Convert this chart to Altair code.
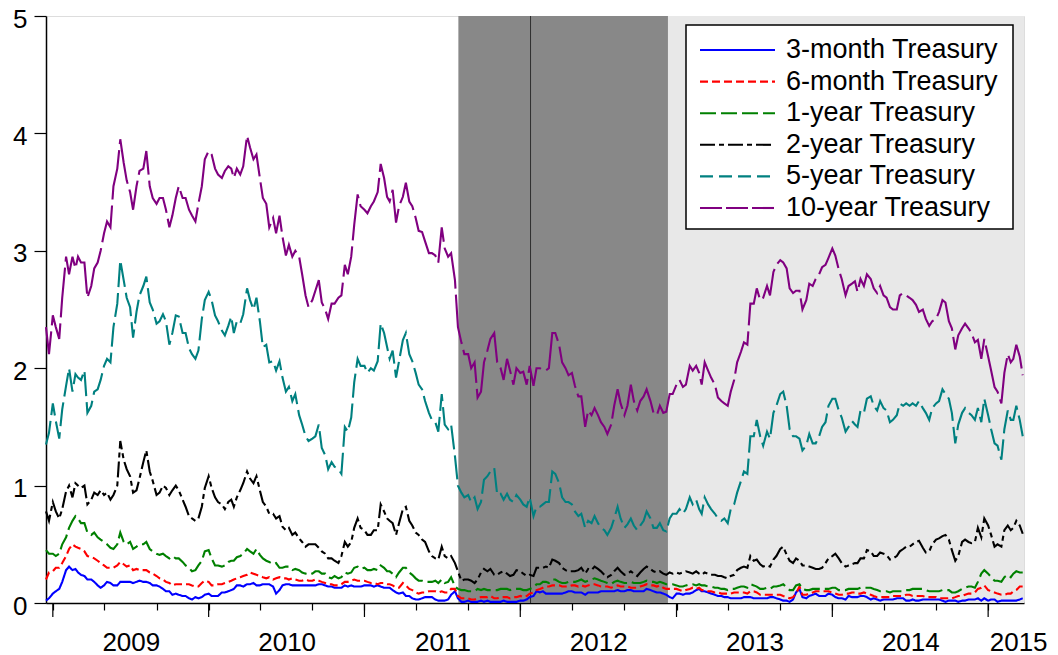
import datetime as dt
import altair as alt
import pandas as pd

# ---------------- data ----------------
SERIES = ["3-month Treasury", "6-month Treasury", "1-year Treasury",
          "2-year Treasury", "5-year Treasury", "10-year Treasury"]
COLORS = ["#0000ff", "#ff0000", "#008000", "#000000", "#008080", "#800080"]
PLOT_DASHES = [[1, 0], [8, 4], [16, 5], [16, 4, 5, 4], [24, 6], [50, 6]]
LEGEND_DASHES = [[1, 0], [8, 4], [16, 5], [15, 4, 5, 4], [13, 6], [22, 4]]

# sample dates: 16 and 23 Dec 2008, then the 1st, 8th, 16th, 23rd of every month
DAYS = [1, 8, 16, 23]
FIRST_DATES = ["2008-12-16", "2008-12-23"]
LAST_MONTH = (2015, 3)

T3M = [0.02, 0.04,
       0.08, 0.10, 0.12, 0.18, 0.28, 0.31, 0.28, 0.29, 0.26, 0.24, 0.23, 0.20, 0.20, 0.18, 0.15, 0.13, 0.15, 0.18, 0.17, 0.15, 0.15, 0.18, 0.18, 0.18,
       0.18, 0.17, 0.18, 0.19, 0.18, 0.18, 0.17, 0.15, 0.15, 0.14, 0.12, 0.10, 0.10, 0.07, 0.08, 0.07, 0.06, 0.06, 0.04, 0.03, 0.05, 0.04, 0.05, 0.07,
       0.08, 0.06, 0.06, 0.06, 0.09, 0.09, 0.10, 0.11, 0.12, 0.15, 0.15, 0.14, 0.16, 0.16, 0.17, 0.15, 0.15, 0.16, 0.16, 0.16, 0.14, 0.08, 0.11, 0.15,
       0.16, 0.16, 0.15, 0.15, 0.15, 0.15, 0.15, 0.15, 0.15, 0.15, 0.16, 0.16, 0.15, 0.14, 0.14, 0.13, 0.13, 0.13, 0.15, 0.14, 0.15, 0.14, 0.14, 0.14,
       0.15, 0.15, 0.15, 0.14, 0.15, 0.14, 0.13, 0.13, 0.13, 0.11, 0.09, 0.08, 0.09, 0.06, 0.06, 0.04, 0.03, 0.03, 0.04, 0.05, 0.05, 0.05, 0.03, 0.02,
       0.02, 0.02, 0.03, 0.07, 0.10, 0.04, 0.01, 0.01, 0.02, 0.01, 0.01, 0.01, 0.02, 0.01, 0.02, 0.01, 0.01, 0.01, 0.01, 0.02, 0.01, 0.01, 0.01, 0.01,
       0.02, 0.02, 0.03, 0.05, 0.06, 0.10, 0.09, 0.10, 0.08, 0.08, 0.08, 0.08, 0.08, 0.08, 0.09, 0.10, 0.10, 0.09, 0.09, 0.09, 0.07, 0.09, 0.09, 0.09,
       0.09, 0.10, 0.10, 0.10, 0.10, 0.10, 0.11, 0.10, 0.10, 0.11, 0.11, 0.10, 0.10, 0.10, 0.10, 0.12, 0.11, 0.10, 0.09, 0.09, 0.08, 0.07, 0.05, 0.04,
       0.08, 0.08, 0.07, 0.08, 0.08, 0.09, 0.11, 0.12, 0.10, 0.10, 0.09, 0.08, 0.07, 0.06, 0.06, 0.05, 0.05, 0.04, 0.04, 0.04, 0.04, 0.05, 0.05, 0.05,
       0.04, 0.04, 0.04, 0.04, 0.04, 0.05, 0.05, 0.04, 0.03, 0.02, 0.02, 0.01, 0.03, 0.09, 0.12, 0.05, 0.04, 0.06, 0.07, 0.08, 0.06, 0.06, 0.06, 0.08,
       0.07, 0.05, 0.04, 0.04, 0.03, 0.06, 0.05, 0.05, 0.05, 0.06, 0.06, 0.05, 0.03, 0.04, 0.03, 0.02, 0.03, 0.03, 0.03, 0.03, 0.04, 0.04, 0.04, 0.02,
       0.02, 0.03, 0.02, 0.02, 0.03, 0.03, 0.03, 0.03, 0.03, 0.03, 0.02, 0.01, 0.02, 0.02, 0.02, 0.01, 0.02, 0.02, 0.03, 0.03, 0.03, 0.04, 0.02, 0.04,
       0.02, 0.03, 0.03, 0.01, 0.02, 0.02, 0.02, 0.02, 0.02, 0.02, 0.03, 0.04]

T6M = [0.20, 0.26,
       0.27, 0.30, 0.30, 0.34, 0.40, 0.46, 0.50, 0.48, 0.47, 0.46, 0.44, 0.40, 0.39, 0.38, 0.36, 0.34, 0.32, 0.30, 0.30, 0.30, 0.32, 0.35, 0.33, 0.31,
       0.32, 0.28, 0.29, 0.28, 0.28, 0.28, 0.26, 0.25, 0.23, 0.21, 0.20, 0.18, 0.17, 0.15, 0.16, 0.16, 0.16, 0.16, 0.16, 0.15, 0.14, 0.14, 0.17, 0.19,
       0.18, 0.15, 0.15, 0.16, 0.16, 0.17, 0.18, 0.19, 0.20, 0.21, 0.22, 0.23, 0.24, 0.26, 0.25, 0.24, 0.23, 0.22, 0.21, 0.22, 0.20, 0.21, 0.22, 0.21,
       0.21, 0.20, 0.21, 0.20, 0.19, 0.19, 0.20, 0.19, 0.19, 0.20, 0.19, 0.18, 0.17, 0.16, 0.16, 0.15, 0.15, 0.16, 0.18, 0.18, 0.19, 0.20, 0.19, 0.19,
       0.19, 0.18, 0.17, 0.17, 0.16, 0.17, 0.17, 0.16, 0.16, 0.15, 0.13, 0.13, 0.17, 0.15, 0.12, 0.11, 0.09, 0.08, 0.09, 0.09, 0.10, 0.10, 0.10, 0.09,
       0.10, 0.09, 0.09, 0.12, 0.12, 0.06, 0.04, 0.04, 0.04, 0.03, 0.03, 0.04, 0.05, 0.05, 0.05, 0.06, 0.04, 0.04, 0.05, 0.05, 0.05, 0.04, 0.05, 0.05,
       0.06, 0.05, 0.06, 0.08, 0.09, 0.11, 0.12, 0.13, 0.14, 0.14, 0.15, 0.15, 0.15, 0.14, 0.14, 0.14, 0.15, 0.15, 0.14, 0.15, 0.14, 0.15, 0.16, 0.16,
       0.15, 0.14, 0.14, 0.14, 0.13, 0.14, 0.15, 0.14, 0.14, 0.14, 0.13, 0.13, 0.13, 0.14, 0.15, 0.16, 0.15, 0.15, 0.14, 0.15, 0.13, 0.12, 0.12, 0.12,
       0.12, 0.11, 0.10, 0.11, 0.12, 0.13, 0.12, 0.13, 0.11, 0.11, 0.10, 0.10, 0.09, 0.09, 0.08, 0.08, 0.08, 0.08, 0.09, 0.09, 0.09, 0.09, 0.08, 0.10,
       0.10, 0.09, 0.07, 0.07, 0.07, 0.07, 0.07, 0.07, 0.07, 0.06, 0.05, 0.04, 0.05, 0.08, 0.14, 0.07, 0.07, 0.08, 0.09, 0.10, 0.10, 0.10, 0.10, 0.10,
       0.09, 0.08, 0.07, 0.07, 0.08, 0.08, 0.09, 0.09, 0.08, 0.08, 0.09, 0.08, 0.07, 0.06, 0.05, 0.05, 0.05, 0.05, 0.05, 0.06, 0.06, 0.06, 0.06, 0.07,
       0.07, 0.06, 0.06, 0.06, 0.06, 0.05, 0.05, 0.05, 0.05, 0.04, 0.04, 0.04, 0.04, 0.04, 0.05, 0.06, 0.06, 0.07, 0.08, 0.08, 0.09, 0.12, 0.13, 0.15,
       0.11, 0.10, 0.09, 0.08, 0.07, 0.07, 0.08, 0.08, 0.10, 0.11, 0.14, 0.14]

T1Y = [0.45, 0.42,
       0.42, 0.40, 0.42, 0.50, 0.56, 0.64, 0.70, 0.74, 0.72, 0.68, 0.68, 0.60, 0.58, 0.60, 0.56, 0.54, 0.52, 0.50, 0.47, 0.46, 0.50, 0.60, 0.52, 0.50,
       0.52, 0.46, 0.48, 0.50, 0.50, 0.52, 0.46, 0.44, 0.42, 0.41, 0.42, 0.40, 0.38, 0.40, 0.38, 0.38, 0.35, 0.32, 0.30, 0.27, 0.28, 0.32, 0.36, 0.44,
       0.45, 0.38, 0.32, 0.32, 0.31, 0.32, 0.35, 0.36, 0.36, 0.39, 0.40, 0.42, 0.46, 0.44, 0.42, 0.46, 0.41, 0.38, 0.36, 0.35, 0.33, 0.34, 0.30, 0.30,
       0.31, 0.31, 0.28, 0.29, 0.28, 0.26, 0.25, 0.26, 0.25, 0.27, 0.27, 0.25, 0.25, 0.22, 0.21, 0.23, 0.21, 0.22, 0.26, 0.25, 0.26, 0.30, 0.31, 0.29,
       0.30, 0.28, 0.28, 0.29, 0.28, 0.32, 0.30, 0.27, 0.27, 0.25, 0.22, 0.26, 0.30, 0.30, 0.26, 0.24, 0.21, 0.19, 0.19, 0.18, 0.18, 0.18, 0.19, 0.17,
       0.20, 0.17, 0.18, 0.22, 0.14, 0.12, 0.11, 0.11, 0.10, 0.10, 0.10, 0.12, 0.11, 0.12, 0.11, 0.11, 0.11, 0.11, 0.12, 0.12, 0.12, 0.11, 0.12, 0.12,
       0.12, 0.11, 0.11, 0.12, 0.13, 0.16, 0.16, 0.18, 0.18, 0.17, 0.20, 0.20, 0.18, 0.17, 0.17, 0.18, 0.18, 0.18, 0.19, 0.20, 0.18, 0.19, 0.20, 0.21,
       0.20, 0.19, 0.18, 0.17, 0.16, 0.18, 0.19, 0.18, 0.17, 0.17, 0.18, 0.17, 0.17, 0.17, 0.18, 0.19, 0.18, 0.18, 0.17, 0.18, 0.17, 0.16, 0.16, 0.16,
       0.15, 0.14, 0.14, 0.15, 0.16, 0.16, 0.15, 0.16, 0.15, 0.15, 0.14, 0.14, 0.13, 0.13, 0.12, 0.12, 0.11, 0.12, 0.12, 0.13, 0.14, 0.14, 0.13, 0.16,
       0.15, 0.14, 0.12, 0.12, 0.13, 0.12, 0.14, 0.14, 0.15, 0.16, 0.13, 0.11, 0.11, 0.15, 0.16, 0.12, 0.11, 0.11, 0.12, 0.12, 0.12, 0.12, 0.12, 0.12,
       0.13, 0.13, 0.11, 0.11, 0.11, 0.12, 0.12, 0.12, 0.12, 0.13, 0.13, 0.13, 0.13, 0.12, 0.11, 0.10, 0.10, 0.10, 0.09, 0.10, 0.10, 0.10, 0.10, 0.11,
       0.11, 0.12, 0.12, 0.12, 0.12, 0.11, 0.10, 0.10, 0.10, 0.10, 0.11, 0.11, 0.11, 0.09, 0.09, 0.10, 0.12, 0.13, 0.14, 0.14, 0.13, 0.18, 0.25, 0.28,
       0.25, 0.22, 0.19, 0.19, 0.18, 0.22, 0.24, 0.22, 0.25, 0.27, 0.26, 0.26]

T2Y = [0.78, 0.70,
       0.86, 0.78, 0.72, 0.80, 0.95, 1.00, 0.90, 1.02, 1.00, 0.98, 1.00, 0.84, 0.88, 0.94, 0.92, 0.96, 0.92, 0.94, 0.88, 0.92, 1.00, 1.38, 1.22, 1.14,
       1.08, 0.94, 0.96, 1.06, 1.20, 1.30, 1.12, 1.04, 0.92, 0.94, 1.00, 0.98, 0.92, 0.96, 1.00, 0.96, 0.88, 0.82, 0.74, 0.72, 0.70, 0.72, 0.82, 0.98,
       1.08, 0.98, 0.90, 0.86, 0.84, 0.80, 0.86, 0.88, 0.82, 0.90, 0.96, 1.02, 1.12, 1.06, 1.02, 1.08, 0.96, 0.86, 0.82, 0.76, 0.76, 0.72, 0.74, 0.65,
       0.62, 0.64, 0.58, 0.60, 0.55, 0.52, 0.48, 0.50, 0.50, 0.50, 0.47, 0.44, 0.42, 0.38, 0.38, 0.36, 0.34, 0.40, 0.52, 0.48, 0.52, 0.64, 0.72, 0.64,
       0.62, 0.58, 0.58, 0.62, 0.62, 0.84, 0.78, 0.72, 0.70, 0.68, 0.58, 0.68, 0.80, 0.82, 0.70, 0.66, 0.60, 0.58, 0.54, 0.52, 0.44, 0.40, 0.38, 0.37,
       0.48, 0.40, 0.38, 0.40, 0.34, 0.27, 0.19, 0.20, 0.20, 0.19, 0.17, 0.20, 0.26, 0.29, 0.27, 0.29, 0.24, 0.24, 0.26, 0.27, 0.25, 0.23, 0.24, 0.28,
       0.27, 0.25, 0.23, 0.24, 0.23, 0.30, 0.30, 0.30, 0.31, 0.30, 0.37, 0.36, 0.34, 0.30, 0.28, 0.27, 0.27, 0.27, 0.28, 0.30, 0.25, 0.29, 0.28, 0.31,
       0.29, 0.27, 0.24, 0.22, 0.24, 0.27, 0.30, 0.27, 0.24, 0.25, 0.27, 0.25, 0.23, 0.26, 0.29, 0.31, 0.29, 0.27, 0.26, 0.27, 0.25, 0.24, 0.26, 0.25,
       0.26, 0.25, 0.26, 0.27, 0.26, 0.25, 0.27, 0.25, 0.24, 0.26, 0.25, 0.24, 0.24, 0.23, 0.23, 0.22, 0.21, 0.23, 0.24, 0.28, 0.30, 0.31, 0.30, 0.40,
       0.36, 0.37, 0.33, 0.31, 0.32, 0.31, 0.37, 0.40, 0.46, 0.48, 0.41, 0.36, 0.34, 0.38, 0.36, 0.32, 0.32, 0.31, 0.30, 0.29, 0.29, 0.30, 0.34, 0.38,
       0.40, 0.42, 0.38, 0.34, 0.31, 0.32, 0.33, 0.34, 0.34, 0.38, 0.38, 0.45, 0.44, 0.40, 0.40, 0.43, 0.42, 0.41, 0.37, 0.38, 0.40, 0.44, 0.46, 0.48,
       0.48, 0.50, 0.52, 0.53, 0.47, 0.43, 0.44, 0.50, 0.54, 0.55, 0.57, 0.58, 0.54, 0.45, 0.36, 0.40, 0.52, 0.54, 0.52, 0.51, 0.52, 0.64, 0.56, 0.72,
       0.66, 0.58, 0.48, 0.50, 0.48, 0.62, 0.66, 0.62, 0.64, 0.70, 0.66, 0.59]

T5Y = [1.35, 1.45,
       1.70, 1.55, 1.40, 1.65, 1.85, 2.00, 1.80, 1.95, 1.92, 1.90, 1.98, 1.62, 1.68, 1.80, 1.82, 1.90, 2.02, 2.08, 2.05, 2.35, 2.55, 2.92, 2.75, 2.60,
       2.52, 2.26, 2.48, 2.62, 2.70, 2.78, 2.56, 2.50, 2.38, 2.40, 2.46, 2.40, 2.20, 2.30, 2.45, 2.44, 2.30, 2.30, 2.17, 2.12, 2.08, 2.15, 2.42, 2.58,
       2.65, 2.58, 2.45, 2.40, 2.32, 2.28, 2.36, 2.44, 2.30, 2.40, 2.38, 2.46, 2.68, 2.58, 2.50, 2.60, 2.40, 2.18, 2.20, 2.05, 2.06, 1.98, 2.06, 1.92,
       1.80, 1.84, 1.72, 1.78, 1.60, 1.52, 1.42, 1.38, 1.40, 1.42, 1.52, 1.32, 1.26, 1.14, 1.20, 1.16, 1.14, 1.10, 1.50, 1.46, 1.58, 1.88, 2.08, 2.02,
       2.02, 1.96, 2.00, 1.98, 2.06, 2.38, 2.30, 2.18, 2.08, 2.15, 1.92, 2.06, 2.24, 2.30, 2.12, 2.06, 1.96, 1.86, 1.82, 1.72, 1.62, 1.56, 1.54, 1.46,
       1.78, 1.52, 1.48, 1.52, 1.25, 1.00, 0.94, 0.90, 0.92, 0.86, 0.90, 0.80, 0.86, 1.05, 1.08, 1.12, 1.15, 0.92, 0.93, 0.88, 0.93, 0.88, 0.86, 0.92,
       0.88, 0.84, 0.82, 0.90, 0.74, 0.82, 0.82, 0.84, 0.86, 0.86, 1.12, 1.10, 1.02, 0.90, 0.86, 0.86, 0.84, 0.78, 0.74, 0.76, 0.64, 0.70, 0.68, 0.74,
       0.68, 0.64, 0.62, 0.58, 0.64, 0.72, 0.82, 0.72, 0.64, 0.67, 0.72, 0.66, 0.62, 0.66, 0.70, 0.78, 0.72, 0.64, 0.64, 0.68, 0.62, 0.61, 0.72, 0.76,
       0.76, 0.80, 0.76, 0.80, 0.90, 0.84, 0.88, 0.80, 0.76, 0.90, 0.84, 0.80, 0.76, 0.72, 0.70, 0.72, 0.68, 0.80, 0.84, 0.94, 1.04, 1.12, 1.10, 1.42,
       1.42, 1.56, 1.42, 1.34, 1.46, 1.40, 1.62, 1.68, 1.78, 1.80, 1.68, 1.48, 1.42, 1.42, 1.40, 1.30, 1.34, 1.44, 1.36, 1.36, 1.42, 1.50, 1.54, 1.68,
       1.74, 1.74, 1.64, 1.58, 1.46, 1.50, 1.55, 1.52, 1.50, 1.64, 1.62, 1.74, 1.76, 1.68, 1.64, 1.72, 1.66, 1.64, 1.54, 1.56, 1.60, 1.70, 1.68, 1.70,
       1.68, 1.70, 1.68, 1.72, 1.66, 1.62, 1.56, 1.66, 1.70, 1.72, 1.82, 1.78, 1.74, 1.62, 1.36, 1.52, 1.62, 1.66, 1.62, 1.60, 1.56, 1.66, 1.54, 1.74,
       1.60, 1.48, 1.36, 1.34, 1.22, 1.48, 1.64, 1.56, 1.56, 1.68, 1.56, 1.42]

T10Y = [2.35, 2.12,
        2.45, 2.35, 2.25, 2.60, 2.95, 2.80, 2.95, 2.85, 2.95, 2.90, 2.90, 2.60, 2.70, 2.85, 2.90, 3.00, 3.15, 3.25, 3.20, 3.55, 3.70, 3.95, 3.75, 3.60,
        3.50, 3.35, 3.55, 3.68, 3.70, 3.85, 3.55, 3.45, 3.40, 3.45, 3.45, 3.35, 3.20, 3.30, 3.45, 3.55, 3.45, 3.45, 3.35, 3.30, 3.25, 3.40, 3.55, 3.78,
        3.85, 3.82, 3.70, 3.65, 3.62, 3.68, 3.72, 3.70, 3.62, 3.70, 3.65, 3.72, 3.98, 3.88, 3.78, 3.82, 3.62, 3.45, 3.40, 3.20, 3.28, 3.15, 3.30, 3.12,
        2.96, 3.05, 2.95, 3.00, 2.95, 2.80, 2.62, 2.52, 2.58, 2.66, 2.75, 2.56, 2.50, 2.42, 2.55, 2.55, 2.60, 2.62, 2.88, 2.80, 2.95, 3.22, 3.48, 3.38,
        3.35, 3.32, 3.38, 3.42, 3.50, 3.74, 3.62, 3.46, 3.42, 3.52, 3.24, 3.38, 3.46, 3.58, 3.42, 3.38, 3.28, 3.17, 3.16, 3.08, 2.98, 2.98, 2.96, 2.90,
        3.20, 3.02, 2.95, 2.98, 2.75, 2.35, 2.22, 2.12, 2.12, 2.00, 2.05, 1.75, 1.80, 2.05, 2.15, 2.25, 2.30, 2.05, 2.00, 1.90, 2.08, 1.98, 1.86, 2.00,
        1.96, 1.97, 1.86, 2.02, 1.85, 2.00, 2.00, 1.98, 1.98, 2.00, 2.30, 2.30, 2.20, 2.05, 2.00, 1.94, 1.96, 1.85, 1.76, 1.76, 1.50, 1.64, 1.60, 1.66,
        1.60, 1.54, 1.50, 1.44, 1.52, 1.68, 1.82, 1.70, 1.60, 1.68, 1.86, 1.72, 1.64, 1.72, 1.76, 1.82, 1.72, 1.62, 1.60, 1.68, 1.62, 1.63, 1.78, 1.78,
        1.86, 1.90, 1.84, 1.86, 2.02, 1.98, 2.02, 1.96, 1.86, 2.05, 1.98, 1.92, 1.86, 1.75, 1.72, 1.70, 1.68, 1.80, 1.90, 2.05, 2.14, 2.22, 2.20, 2.55,
        2.55, 2.68, 2.58, 2.60, 2.70, 2.62, 2.82, 2.88, 2.92, 2.90, 2.85, 2.68, 2.64, 2.66, 2.66, 2.50, 2.58, 2.72, 2.70, 2.76, 2.80, 2.86, 2.88, 2.94,
        3.02, 2.96, 2.84, 2.76, 2.62, 2.70, 2.72, 2.74, 2.65, 2.76, 2.70, 2.80, 2.76, 2.68, 2.64, 2.70, 2.62, 2.60, 2.52, 2.50, 2.50, 2.62, 2.64, 2.62,
        2.60, 2.58, 2.54, 2.48, 2.50, 2.42, 2.36, 2.40, 2.42, 2.48, 2.58, 2.56, 2.40, 2.34, 2.16, 2.28, 2.34, 2.38, 2.34, 2.30, 2.22, 2.24, 2.08, 2.25,
        2.10, 1.98, 1.84, 1.80, 1.70, 1.96, 2.12, 2.05, 2.08, 2.20, 2.10, 1.94]

VALUES = [T3M, T6M, T1Y, T2Y, T5Y, T10Y]

# policy periods (shaded) and the single event line
PERIODS = {"start": ["2011-08-09", "2012-12-12"],
           "end": ["2012-12-12", "2015-03-26"],
           "fill": ["#888888", "#e8e8e8"]}
EVENT_DATES = ["2012-01-25"]
YEAR_STARTS = ["2009-01-01", "2010-01-01", "2011-01-01", "2012-01-01",
               "2013-01-01", "2014-01-01", "2015-01-01"]
Y_TICKS = [0, 1, 2, 3, 4, 5]

# ---------------- build tables ----------------
dates = [pd.Timestamp(d) for d in FIRST_DATES]
for y in range(2009, LAST_MONTH[0] + 1):
    for m in range(1, 13):
        if (y, m) > LAST_MONTH:
            break
        for d in DAYS:
            dates.append(pd.Timestamp(dt.date(y, m, d)))

rows = []
for name, vals in zip(SERIES, VALUES):
    assert len(vals) == len(dates), (name, len(vals), len(dates))
    for d, v in zip(dates, vals):
        rows.append({"date": d, "series": name, "value": v})
df = pd.DataFrame(rows)

periods = pd.DataFrame(PERIODS)
periods["start"] = pd.to_datetime(periods["start"])
periods["end"] = pd.to_datetime(periods["end"])
events = pd.DataFrame({"date": pd.to_datetime(EVENT_DATES)})
years = pd.DataFrame({"date": pd.to_datetime(YEAR_STARTS)})
legend_df = pd.DataFrame({"series": SERIES})

# ---------------- chart ----------------
W, H = 978, 587
FONT = "Liberation Sans"

x_domain = [alt.DateTime(year=2008, month=12, date=16),
            alt.DateTime(year=2015, month=3, date=26)]
month_ticks = [alt.DateTime(year=y, month=m, date=1)
               for y in range(2009, 2016) for m in range(1, 13)
               if (y, m) <= LAST_MONTH]

x_scale = alt.Scale(domain=x_domain)
y_scale = alt.Scale(domain=[0, 5], nice=False, zero=False)
color_scale = alt.Scale(domain=SERIES, range=COLORS)

x_axis = alt.Axis(
    values=month_ticks, title=None, grid=False,
    labelExpr="month(datum.value) == 0 ? timeFormat(datum.value, '%Y') : ''",
    tickSize=7,
    labelOffset={"condition": {"test": "year(datum.value) == 2015", "value": 30}, "value": 78},
    labelFlush=False, labelOverlap=False, labelBound=False,
    labelFontSize=26, labelFont=FONT, labelColor="black", labelPadding=19,
    tickColor="black", tickWidth=1.2, domainColor="black", domainWidth=1.5,
)
y_axis = alt.Axis(
    values=Y_TICKS, title=None, grid=False, format="d",
    tickSize=12, tickColor="black", tickWidth=1.2,
    labelFontSize=26, labelFont=FONT, labelColor="black", labelPadding=7,
    labelOffset=3,
    labelFlush=False, domainColor="black", domainWidth=1.5,
)

shade = alt.Chart(periods).mark_rect().encode(
    x=alt.X("start:T", scale=x_scale, axis=x_axis),
    x2="end:T",
    y=alt.value(0),
    y2=alt.value(H),
    color=alt.Color("fill:N", scale=None, legend=None),
)

event_rule = alt.Chart(events).mark_rule(color="#303030", strokeWidth=1).encode(
    x=alt.X("date:T", scale=x_scale),
    y=alt.value(0),
    y2=alt.value(H),
)

year_ticks = alt.Chart(years).mark_rule(color="black", strokeWidth=1.2).encode(
    x=alt.X("date:T", scale=x_scale),
    y=alt.value(H),
    y2=alt.value(H + 14),
)

lines = alt.Chart(df).mark_line(strokeWidth=2.1).encode(
    x=alt.X("date:T", scale=x_scale),
    y=alt.Y("value:Q", scale=y_scale, axis=y_axis),
    color=alt.Color("series:N", scale=color_scale, legend=None),
    strokeDash=alt.StrokeDash("series:N", scale=alt.Scale(domain=SERIES, range=PLOT_DASHES),
                              legend=None),
    order=alt.Order("date:T"),
)

main = alt.layer(shade, event_rule, year_ticks, lines)

# ---- legend box drawn as marks ----
leg_y = alt.Y("series:N", axis=None,
              scale=alt.Scale(type="point", domain=SERIES, range=[34, 192], padding=0))

leg_box = alt.Chart(pd.DataFrame({"series": [SERIES[0]]})).mark_rect(
    fill="white", stroke="black", strokeWidth=1.5
).encode(
    x=alt.value(640), x2=alt.value(967), y=alt.value(9), y2=alt.value(213),
)
leg_sym = alt.Chart(legend_df).mark_rule(strokeWidth=2.1).encode(
    x=alt.value(654), x2=alt.value(729), y=leg_y,
    color=alt.Color("series:N", scale=color_scale, legend=None),
    strokeDash=alt.StrokeDash("series:N", scale=alt.Scale(domain=SERIES, range=LEGEND_DASHES),
                              legend=None),
)
leg_txt = alt.Chart(legend_df).mark_text(
    align="left", baseline="middle", fontSize=27, font=FONT, color="black"
).encode(
    x=alt.value(740), y=leg_y, text="series:N",
)
legend_layer = alt.layer(leg_box, leg_sym, leg_txt)

chart = alt.layer(main, legend_layer).resolve_scale(
    y="independent", strokeDash="independent"
).properties(
    width=W, height=H,
    autosize=alt.AutoSizeParams(type="none"),
    padding={"left": 38, "top": 8, "right": 26, "bottom": 54},
).configure_view(
    stroke="black", strokeWidth=1.5,
).configure(
    font=FONT,
)

chart.save("out.html", embed_options={"renderer": "svg", "actions": False})
